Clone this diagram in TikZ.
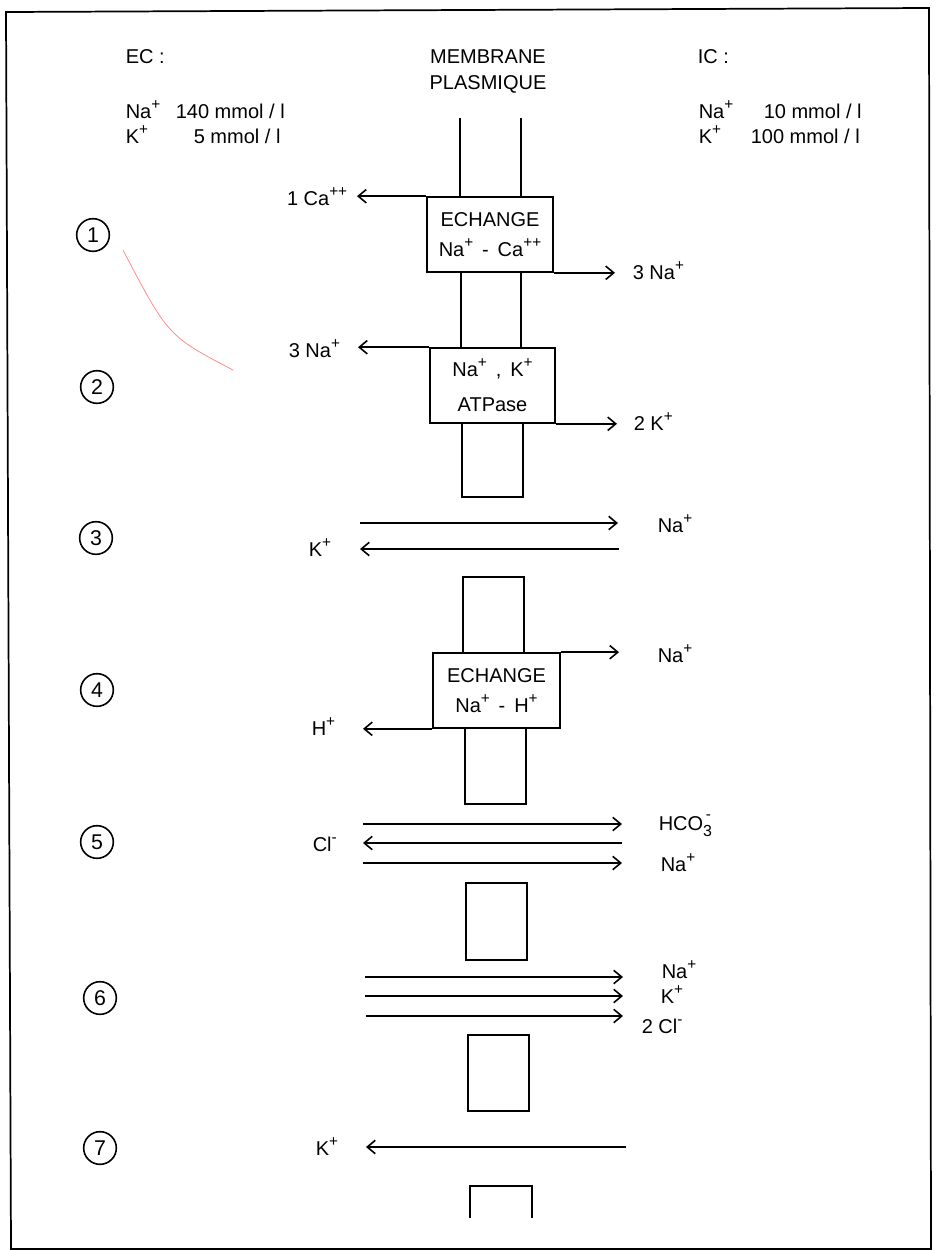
\documentclass[tikz,border=0pt]{standalone}
\usepackage{fontspec}
\setmainfont{Liberation Sans}
\usetikzlibrary{arrows.meta}
\newcommand{\sps}[1]{\raisebox{0.42em}{\fontsize{11.5}{11.5}\selectfont #1}}
\newcommand{\hcothree}{HCO\rlap{\raisebox{-0.32em}{\fontsize{12}{12}\selectfont 3}}\raisebox{0.55em}{\fontsize{11.5}{11.5}\selectfont\,-}}
\begin{document}
\begin{tikzpicture}[x=0.75pt,y=-0.75pt,
  line width=1.2pt,
  ion/.style={-{Straight Barb[length=6pt,width=10pt]}, line width=1.2pt},
  lbl/.style={font=\fontsize{15}{17}\selectfont, inner sep=0pt, anchor=base west},
  lble/.style={lbl, anchor=base east},
  hdr/.style={font=\fontsize{15}{17}\selectfont, inner sep=0pt, anchor=base},
  pump/.style={draw, line width=1.2pt, align=center, inner sep=0pt,
    font=\fontsize{15}{22.5}\selectfont, minimum height=56.25pt},
  num/.style={draw, circle, minimum size=24.5pt, inner sep=0pt,
    font=\fontsize{16}{16}\selectfont, line width=1.2pt},
  wall/.style={line width=1.2pt}
]
\useasboundingbox (0,0) rectangle (945,1250);

% frame
\draw[line width=1.3pt] (6,12) -- (929,8) -- (931,1249) -- (11,1249) -- cycle;

% faint pencil mark
\draw[red!45, line width=0.6pt] (123,250) .. controls (168,336) .. (233,370);

% header
\node[lbl] (ec) at (125,63) {EC :};
\node[hdr] (mem1) at (488,63) {MEMBRANE};
\node[hdr] (mem2) at (488,89) {PLASMIQUE};
\node[lbl] (ic) at (697,63) {IC :};
\node[lbl] (ecna) at (125,118) {Na\sps{+}};
\node[lbl] (ecnav) at (175,118) {140 mmol / l};
\node[lbl] (eck) at (125,143) {K\sps{+}};
\node[lbl] (eckv) at (193,143) {5 mmol / l};
\node[lbl] (icna) at (698,118) {Na\sps{+}};
\node[lbl] (icnav) at (763,118) {10 mmol / l};
\node[lbl] (ick) at (698,143) {K\sps{+}};
\node[lbl] (ickv) at (750,143) {100 mmol / l};

% numbers
\node[num] (n1) at (93,235) {1};
\node[num] (n2) at (97,387) {2};
\node[num] (n3) at (96,538) {3};
\node[num] (n4) at (97,690) {4};
\node[num] (n5) at (97,842) {5};
\node[num] (n6) at (100,998) {6};
\node[num] (n7) at (100,1148) {7};

% membrane segments
\draw[wall] (460,118) -- (460,197);
\draw[wall] (521,118) -- (521,197);
\draw[wall] (461,272) -- (461,348);
\draw[wall] (521,272) -- (521,348);
\draw[wall] (462,423) -- (462,497) -- (523,497) -- (523,423);
\draw[wall] (463,653) -- (463,577) -- (524,577) -- (524,653);
\draw[wall] (465,728) -- (465,804) -- (526,804) -- (526,728);
\draw[wall] (466,883) rectangle (527,960);
\draw[wall] (468,1035) rectangle (529,1111);
\draw[wall] (470,1218) -- (470,1186) -- (532,1186) -- (532,1218);

% pumps
\node[pump, minimum width=94.5pt, fill=white] (b1) at (490,234.5)
  {ECHANGE\\Na\sps{+} \,-\, Ca\sps{++}};
\node[pump, minimum width=93.75pt, fill=white] (b2) at (492.5,385.5)
  {Na\sps{+} \,,\, K\sps{+}\\[4pt]ATPase};
\node[pump, minimum width=95.25pt, fill=white] (b4) at (496.5,690.5)
  {ECHANGE\\Na\sps{+} \,-\, H\sps{+}};

% row 1
\coordinate (a1l) at (357,197);
\coordinate (a1r) at (615,272);
\draw[ion] (b1.north west) -- (b1.north west -| a1l);
\draw[ion] (b1.south east) -- (b1.south east -| a1r);
\node[lble] (l1a) at (348,205) {1 Ca\sps{++}};
\node[lbl] (l1b) at (632,279) {3 Na\sps{+}};

% row 2
\coordinate (a2l) at (358,348);
\coordinate (a2r) at (617,423);
\draw[ion] (b2.north west) -- (b2.north west -| a2l);
\draw[ion] (b2.south east) -- (b2.south east -| a2r);
\node[lbl] (l2a) at (288,357) {3 Na\sps{+}};
\node[lbl] (l2b) at (633,430) {2 K\sps{+}};

% row 3
\coordinate (r3a) at (360,523);
\coordinate (r3b) at (618,523);
\coordinate (r3c) at (619,549);
\coordinate (r3d) at (360,549);
\draw[ion] (r3a) -- (r3b);
\draw[ion] (r3c) -- (r3d);
\node[lbl] (l3a) at (657,532) {Na\sps{+}};
\node[lbl] (l3b) at (308,556) {K\sps{+}};

% row 4
\coordinate (a4r) at (619,653);
\coordinate (a4l) at (363,728);
\draw[ion] (b4.north east) -- (b4.north east -| a4r);
\draw[ion] (b4.south west) -- (b4.south west -| a4l);
\node[lbl] (l4a) at (657,662) {Na\sps{+}};
\node[lbl] (l4b) at (311,735) {H\sps{+}};

% row 5
\coordinate (r5a) at (363,824);
\coordinate (r5b) at (622,824);
\coordinate (r5c) at (622,843);
\coordinate (r5d) at (363,843);
\coordinate (r5e) at (363,863);
\coordinate (r5f) at (622,863);
\draw[ion] (r5a) -- (r5b);
\draw[ion] (r5c) -- (r5d);
\draw[ion] (r5e) -- (r5f);
\node[lbl] (l5a) at (658,830) {\hcothree};
\node[lbl] (l5b) at (312,851) {Cl\sps{-}};
\node[lbl] (l5c) at (660,871) {Na\sps{+}};

% row 6
\coordinate (r6a) at (365,977);
\coordinate (r6b) at (623,977);
\coordinate (r6c) at (365,996);
\coordinate (r6d) at (623,996);
\coordinate (r6e) at (366,1016);
\coordinate (r6f) at (623,1016);
\draw[ion] (r6a) -- (r6b);
\draw[ion] (r6c) -- (r6d);
\draw[ion] (r6e) -- (r6f);
\node[lbl] (l6a) at (661,978) {Na\sps{+}};
\node[lbl] (l6b) at (660,1003) {K\sps{+}};
\node[lbl] (l6c) at (641,1033) {2 Cl\sps{-}};

% row 7
\coordinate (r7a) at (626,1147);
\coordinate (r7b) at (366,1147);
\draw[ion] (r7a) -- (r7b);
\node[lbl] (l7a) at (315,1155) {K\sps{+}};
\end{tikzpicture}
\end{document}
